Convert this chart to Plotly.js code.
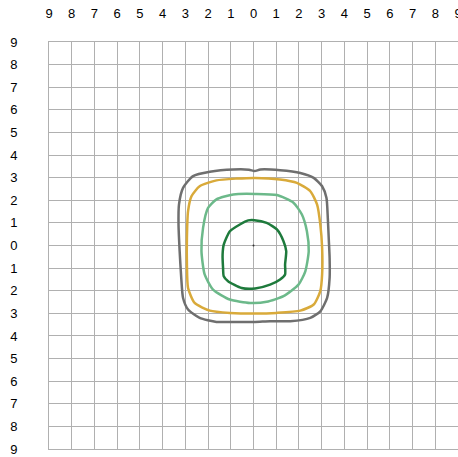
<!DOCTYPE html>
<html>
<head>
<meta charset="utf-8">
<script src="https://cdn.plot.ly/plotly-3.0.1.min.js"></script>
<style>html,body{margin:0;padding:0;background:#fff;}#chart{width:458px;height:457px;}</style>
</head>
<body>
<div id="chart"></div>
<script>
// Tick positions and labels (absolute distance from center)
const tickValues = [-9,-8,-7,-6,-5,-4,-3,-2,-1,0,1,2,3,4,5,6,7,8,9];
const tickLabels = ["9","8","7","6","5","4","3","2","1","0","1","2","3","4","5","6","7","8","9"];

// Contour series (x, y), each closed
const grayX = [3.31,3.35,3.35,3.24,2.94,2.5,1.62,0.73,0.07,-0.74,-1.63,-2.37,-2.88,-3.1,-3.18,-3.25,-3.3,-3.28,-3.1,-2.66,-1.92,-0.89,-0.2,0.05,0.3,1.17,2.06,2.65,3.02,3.21,3.27,3.31];
const grayY = [0.34,-0.55,-1.43,-2.32,-2.91,-3.2,-3.35,-3.35,-3.38,-3.38,-3.38,-3.2,-2.83,-2.32,-1.43,-0.25,0.93,1.81,2.55,3.07,3.26,3.36,3.35,3.29,3.36,3.33,3.21,2.99,2.62,2.11,1.22,0.34];

const goldX = [3.02,3.02,2.94,2.65,2.06,1.03,0.07,-1.04,-1.92,-2.59,-2.88,-2.93,-2.93,-2.88,-2.73,-2.37,-1.63,-0.74,0.07,1.17,1.91,2.5,2.8,2.94,3.02];
const goldY = [-0.1,-1.28,-2.02,-2.61,-2.88,-2.98,-3.01,-2.98,-2.88,-2.54,-1.88,-0.84,0.34,1.52,2.18,2.62,2.88,2.96,2.99,2.92,2.77,2.4,1.81,0.93,-0.1];

const lightGreenX = [2.43,2.28,1.98,1.32,0.58,-0.15,-1.04,-1.78,-2.15,-2.29,-2.22,-2.0,-1.63,-0.89,0.07,1.03,1.76,2.13,2.35,2.43];
const lightGreenY = [-0.25,-1.14,-1.73,-2.24,-2.49,-2.54,-2.39,-1.95,-1.28,-0.25,0.78,1.66,2.04,2.26,2.28,2.23,1.89,1.37,0.63,-0.25];

const darkGreenX = [1.44,1.39,1.39,1.17,0.73,0.07,-0.52,-1.12,-1.31,-1.34,-1.36,-1.31,-1.04,-0.6,-0.23,0.04,0.58,1.03,1.32,1.44];
const darkGreenY = [-0.25,-0.84,-1.28,-1.5,-1.73,-1.9,-1.88,-1.58,-1.36,-0.99,-0.4,0.04,0.63,0.93,1.11,1.12,1.0,0.71,0.19,-0.25];

const centerX = [0];
const centerY = [0];

function contour(x, y, color) {
  return {x: x, y: y, type: 'scatter', mode: 'lines',
    line: {color: color, width: 2.5, shape: 'spline', smoothing: 0.6},
    hoverinfo: 'skip', showlegend: false};
}

const data = [
  contour(grayX, grayY, '#6f6f6f'),
  contour(goldX, goldY, '#d9aa3a'),
  contour(lightGreenX, lightGreenY, '#6cb98a'),
  contour(darkGreenX, darkGreenY, '#1e7a3c'),
  {x: centerX, y: centerY, type: 'scatter', mode: 'markers',
   marker: {color: '#333', size: 2}, hoverinfo: 'skip', showlegend: false}
];

const axisCommon = {
  range: [-9, 9], tickvals: tickValues, ticktext: tickLabels,
  showgrid: true, gridcolor: '#b0b0b0', gridwidth: 1,
  zeroline: false, showline: true, linecolor: '#b0b0b0', linewidth: 1, mirror: true,
  ticks: '', fixedrange: true, ticklabeloverflow: 'allow',
  tickfont: {family: 'Liberation Sans, Arial, sans-serif', size: 13, color: '#000'}
};

const layout = {
  width: 458, height: 457,
  margin: {l: 49, r: 0, t: 42, b: 8, pad: 0},
  paper_bgcolor: '#fff', plot_bgcolor: '#fff',
  xaxis: Object.assign({}, axisCommon, {side: 'top', ticklabelstandoff: 18}),
  yaxis: Object.assign({}, axisCommon, {ticklabelstandoff: 28}),
  showlegend: false
};

Plotly.newPlot('chart', data, layout, {staticPlot: true, displayModeBar: false});
</script>
</body>
</html>
